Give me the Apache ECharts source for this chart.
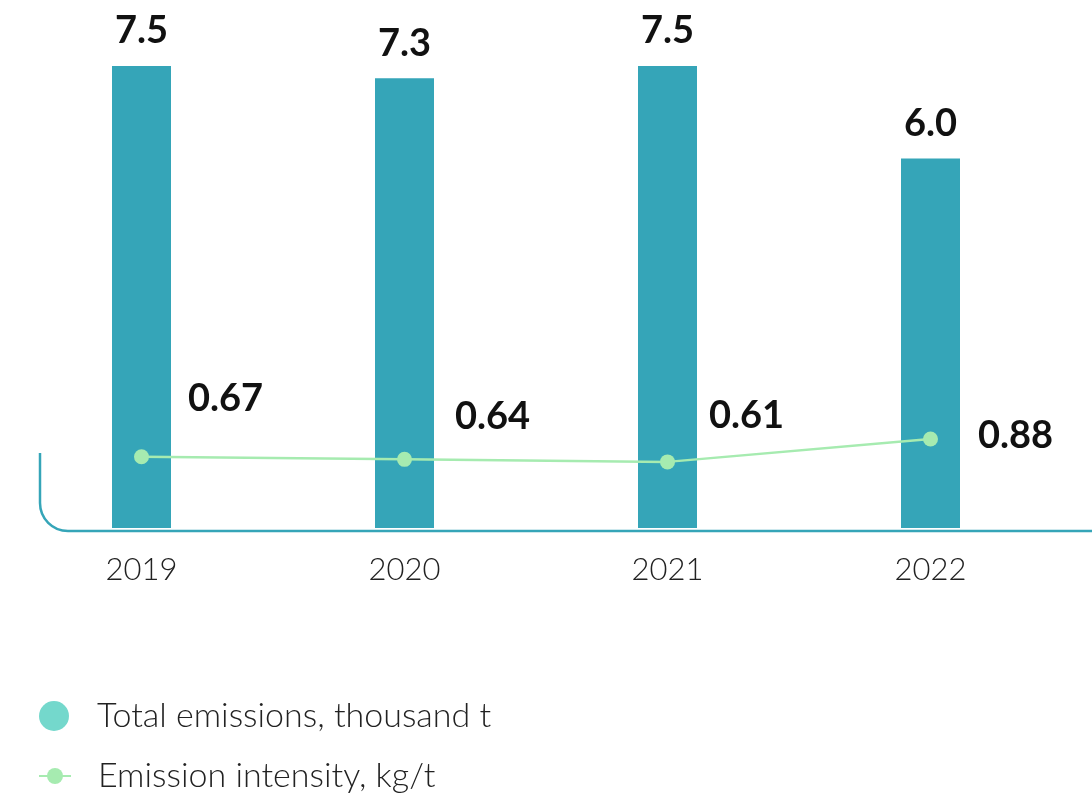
<!DOCTYPE html>
<html><head><meta charset="utf-8">
<script src="https://cdn.jsdelivr.net/npm/echarts@6/dist/echarts.min.js"></script>
<style>html,body{margin:0;padding:0;background:#fff}#c{width:1092px;height:794px}</style>
</head><body><div id="c"></div>
<script>
const years = ['2019','2020','2021','2022'];
const totalEmissions = [7.5, 7.3, 7.5, 6.0];
const emissionIntensity = [0.67, 0.64, 0.61, 0.88];
const barName = 'Total emissions, thousand t';
const lineName = 'Emission intensity, kg/t';

const lineLabelOffsets = [[84,-58],[88,-43],[79,-46],[85,-3]];
const FONT = 'Lato, "Open Sans", sans-serif';
const AXIS_COLOR = '#35a5b8';

const chart = echarts.init(document.getElementById('c'));
chart.setOption({
  animation:false,
  textStyle:{fontFamily:FONT},
  grid:{left:10, right:30, top:66, bottom:266},
  xAxis:{type:'category', data:years,
    axisLine:{show:false}, axisTick:{show:false},
    axisLabel:{fontSize:31, fontWeight:300, color:'#222', margin:26, fontFamily:FONT}},
  yAxis:[
    {type:'value', min:0, max:7.5, show:false},
    {type:'value', min:-0.17, max:5.28, show:false}
  ],
  legend:[
    {left:39, top:699, padding:0, orient:'vertical', icon:'circle', itemWidth:30, itemHeight:30,
      data:[{name:barName, itemStyle:{color:'#74d8cc'}}],
      textStyle:{fontSize:34, fontWeight:300, color:'#222', fontFamily:FONT, padding:[0,0,0,23]}},
    {left:38, top:759, padding:0, orient:'vertical', itemWidth:32, itemHeight:20,
      data:[lineName],
      textStyle:{fontSize:34, fontWeight:300, color:'#222', fontFamily:FONT, padding:[0,0,0,22]}}
  ],
  graphic:[
    {type:'line', silent:true, shape:{x1:40, y1:453, x2:40, y2:503},
      style:{stroke:AXIS_COLOR, lineWidth:2.5}},
    {type:'arc', silent:true, shape:{cx:68, cy:503, r:28, startAngle:Math.PI/2, endAngle:Math.PI, clockwise:true},
      style:{stroke:AXIS_COLOR, lineWidth:2.5, fill:null}},
    {type:'line', silent:true, shape:{x1:68, y1:531, x2:1092, y2:531},
      style:{stroke:AXIS_COLOR, lineWidth:2.5}}
  ],
  series:[
    {name:barName, type:'bar', data:totalEmissions, barWidth:59,
      itemStyle:{color:'#35a5b8'},
      label:{show:true, position:'top', distance:16, fontSize:38, fontWeight:'bold', color:'#111',
        fontFamily:FONT, formatter:p=>p.value.toFixed(1)}},
    {name:lineName, type:'line', yAxisIndex:1, z:5,
      data:emissionIntensity.map((v,i)=>({value:v, label:{offset:lineLabelOffsets[i]}})),
      symbol:'circle', symbolSize:15,
      lineStyle:{color:'#a6ebb0', width:2.5},
      itemStyle:{color:'#a6ebb0'},
      label:{show:true, position:'inside', fontSize:38, fontWeight:'bold', color:'#111',
        fontFamily:FONT, formatter:p=>p.value.toFixed(2)}}
  ]
});
</script></body></html>
